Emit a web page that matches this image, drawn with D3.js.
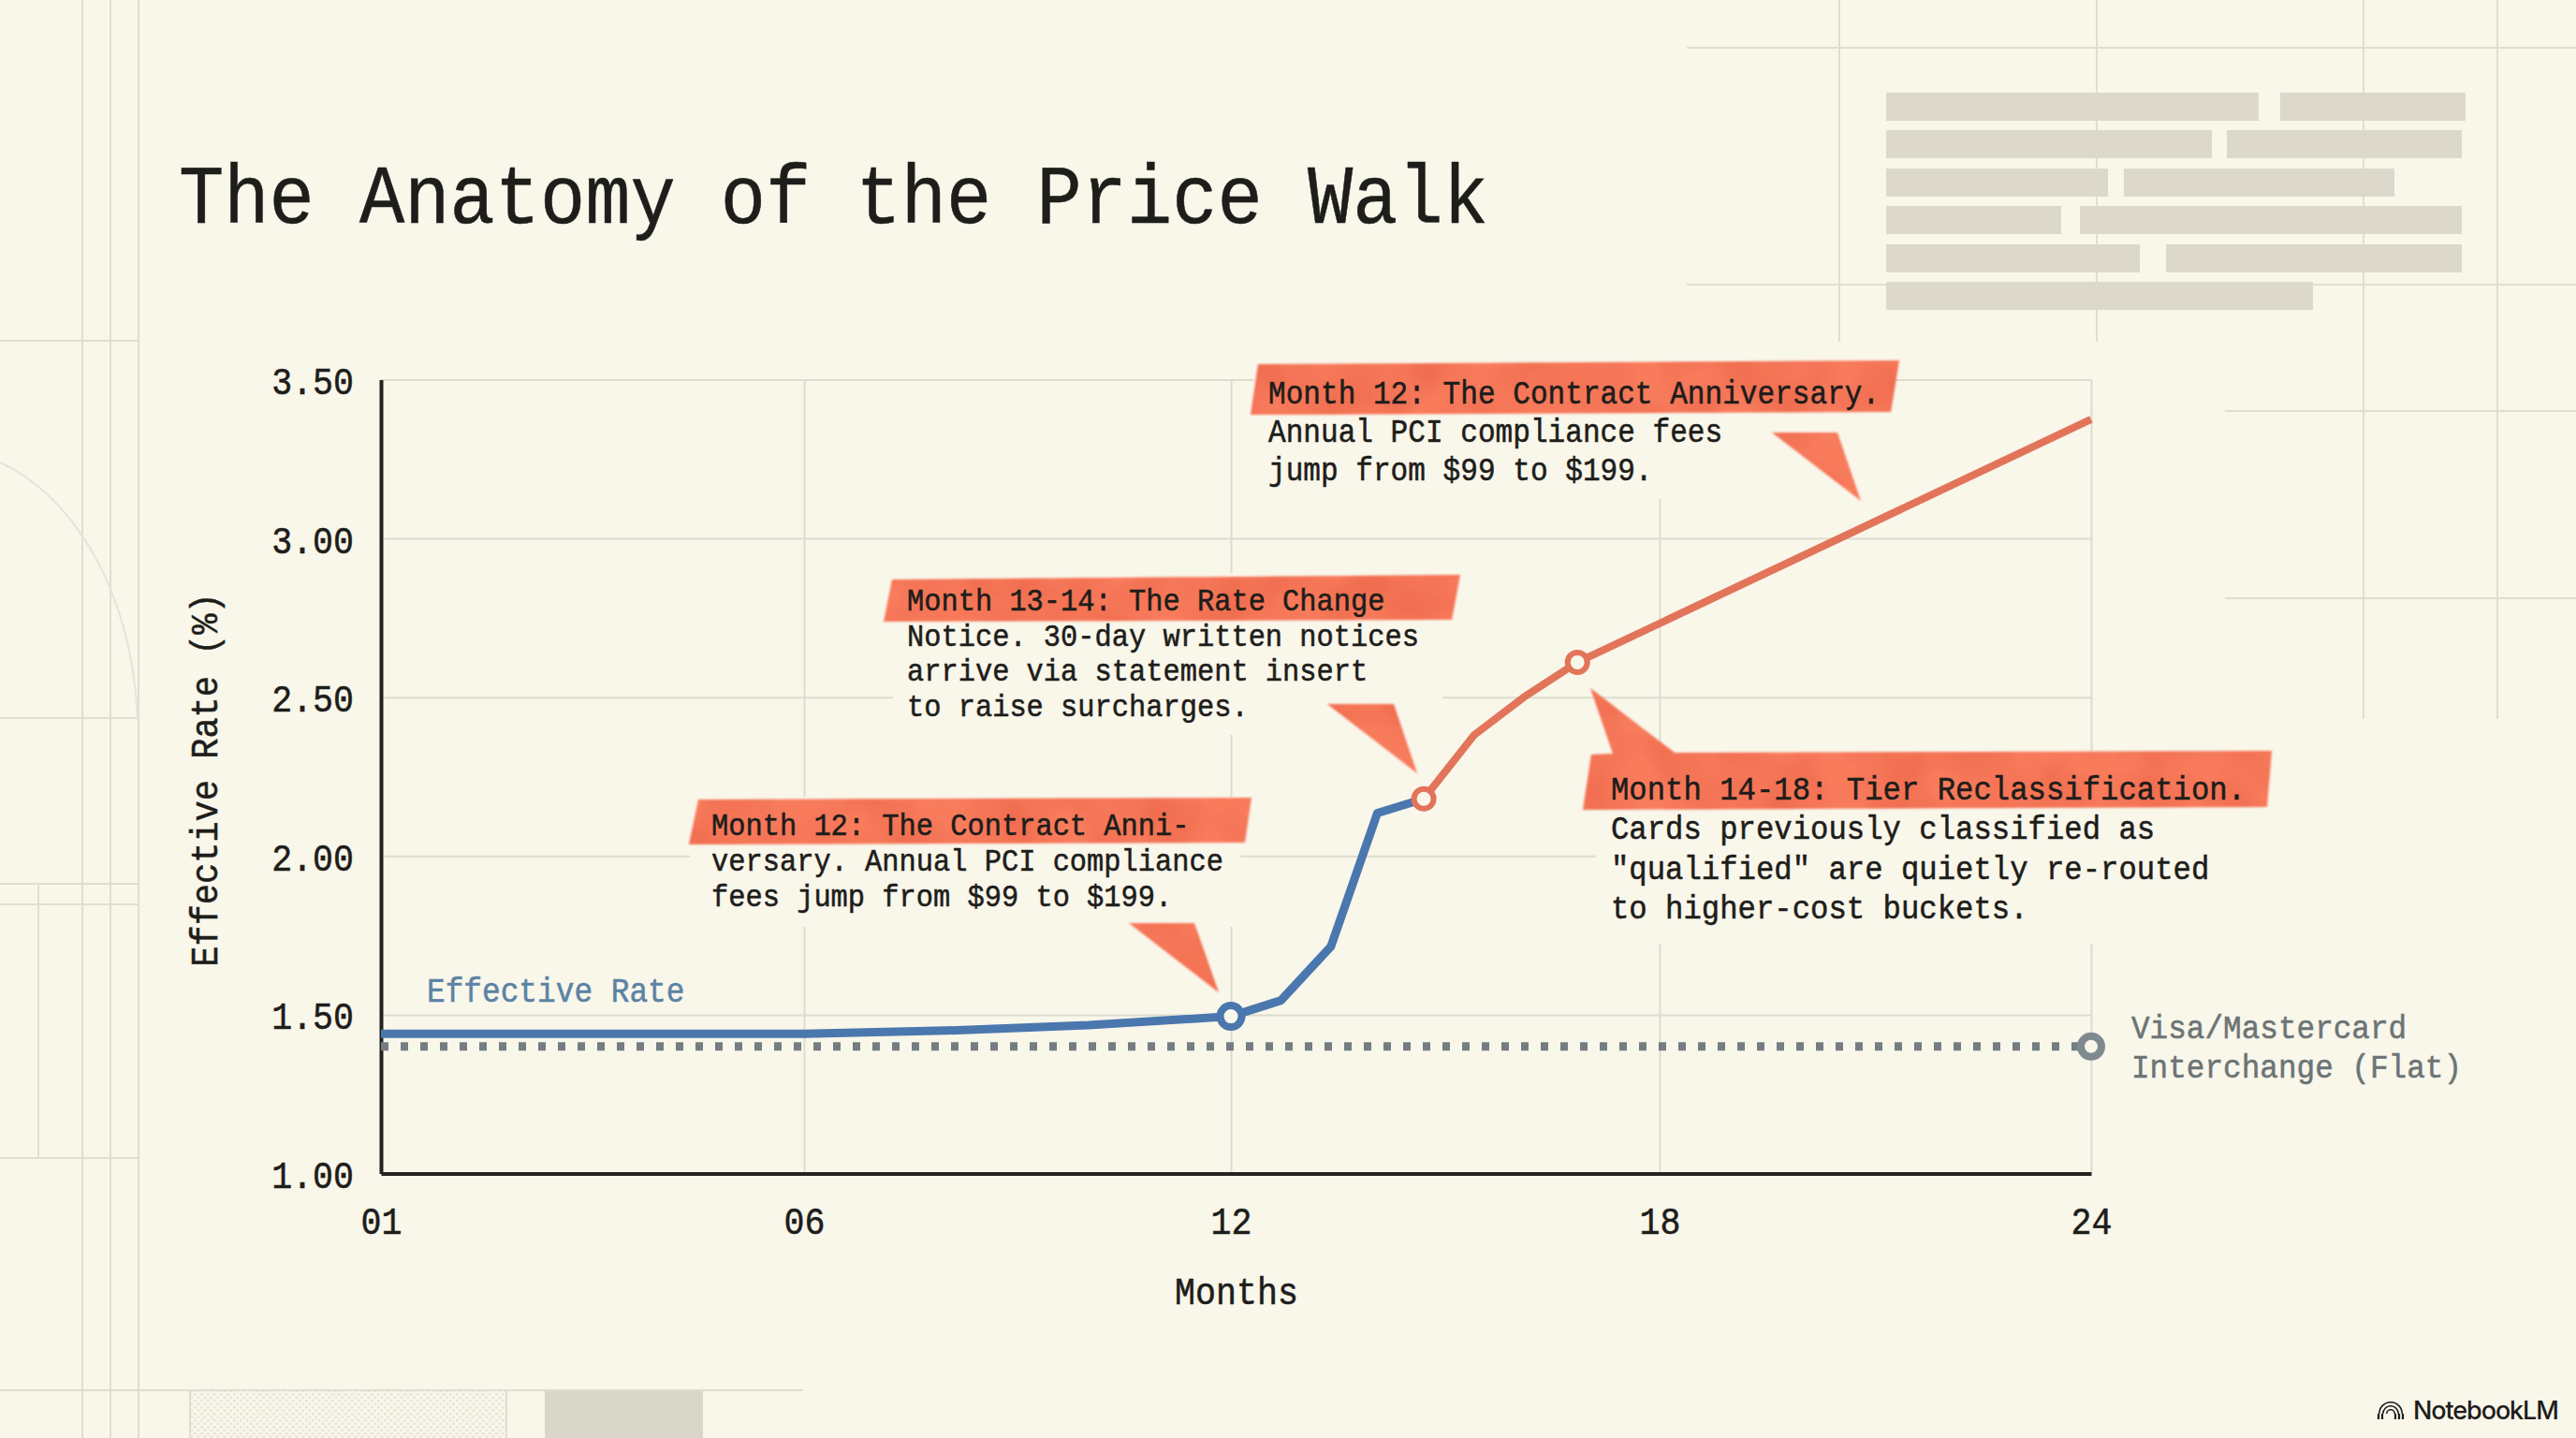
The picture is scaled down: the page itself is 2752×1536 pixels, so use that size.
<!DOCTYPE html>
<html>
<head>
<meta charset="utf-8">
<style>
  html, body { margin: 0; padding: 0; background: #f9f6ea; }
  svg { display: block; }
  text { font-family: "Liberation Mono", monospace; fill: #1d1d1a; }
</style>
<script src="https://cdn.jsdelivr.net/npm/d3@7/dist/d3.min.js"></script>
</head>
<body>
<svg id="chart" width="2752" height="1536"></svg>
<script>
// Effective rate over the contract, split where it turns from blue to orange.
const earlyMonths = [1, 5, 6, 8, 10, 12, 12.7, 13.4, 14.05, 14.7];
const earlyRates  = [1.44, 1.44, 1.44, 1.45, 1.467, 1.495, 1.545, 1.715, 2.135, 2.18];
const lateMonths  = [14.7, 15.4, 16.1, 16.85, 24];
const lateRates   = [2.18, 2.38, 2.5, 2.61, 3.375];

// Flat card-network interchange line.
const flatMonths = [1, 24];
const flatRates  = [1.4, 1.4];

const xTicks = [1, 6, 12, 18, 24];
const yTicks = [1, 1.5, 2, 2.5, 3, 3.5];

const blueMarkers   = [[12, 1.495]];
const orangeMarkers = [[14.7, 2.18], [16.85, 2.61]];
const greyMarkers   = [[24, 1.4]];

const chartTitle = "The Anatomy of the Price Walk";
const xAxisTitle = "Months";
const yAxisTitle = "Effective Rate (%)";
const seriesLabel = "Effective Rate";
const flatLabel = ["Visa/Mastercard", "Interchange (Flat)"];

const notes = [
  { lines: ["Month 12: The Contract Anniversary.", "Annual PCI compliance fees", "jump from $99 to $199."],
    x: 1355, ys: [431, 472, 513], size: 31.1,
    clear: [1340, 380, 680, 153],
    band: [[1344, 389], [2029, 385], [2020, 440], [1336, 443]],
    pointer: [[1893, 462], [1963, 462], [1988, 535]] },
  { lines: ["Month 13-14: The Rate Change", "Notice. 30-day written notices", "arrive via statement insert", "to raise surcharges."],
    x: 969, ys: [652, 690, 727, 765], size: 30.4,
    clear: [954, 612, 587, 173],
    band: [[953, 619], [1560, 614], [1551, 662], [944, 664]],
    pointer: [[1418, 752], [1489, 752], [1514, 826]] },
  { lines: ["Month 12: The Contract Anni-", "versary. Annual PCI compliance", "fees jump from $99 to $199."],
    x: 760, ys: [892, 930, 968], size: 30.4,
    clear: [737, 851, 588, 139],
    band: [[746, 854], [1337, 852], [1330, 900], [736, 902]],
    pointer: [[1206, 986], [1276, 986], [1302, 1060]] },
  { lines: ["Month 14-18: Tier Reclassification.", "Cards previously classified as", "\"qualified\" are quietly re-routed", "to higher-cost buckets."],
    x: 1721, ys: [854, 896, 939, 981], size: 32.3,
    clear: [1705, 802, 725, 206],
    band: [[1700, 806], [1723, 805], [1699, 735], [1789, 804], [2427, 802], [2422, 862], [1691, 865]],
    pointer: null }
];

// Pale drafting lines and placeholder blocks behind the chart.
const sketchLines = [
  [88, 0, 88, 1536], [118, 0, 118, 1536], [148, 0, 148, 1536], [41, 944, 41, 1237],
  [0, 364, 148, 364], [0, 767, 148, 767], [0, 944, 148, 944], [0, 966, 148, 966],
  [0, 1237, 148, 1237], [0, 1485, 858, 1485], [203, 1485, 203, 1536], [541, 1485, 541, 1536],
  [1802, 51, 2752, 51], [1802, 304, 2752, 304], [2377, 439, 2752, 439], [2377, 639, 2752, 639],
  [1965, 0, 1965, 365], [2240, 0, 2240, 365], [2525, 0, 2525, 768], [2668, 0, 2668, 768]
];
const sketchBlocks = [
  [2015, 99, 398], [2436, 99, 198],
  [2015, 139, 348], [2379, 139, 251],
  [2015, 180, 237], [2269, 180, 289],
  [2015, 220, 187], [2222, 220, 408],
  [2015, 261, 271], [2314, 261, 316],
  [2015, 301, 456]
];

const paper = "#f9f6ea";
const gridInk = "#dedbcf";
const blue = "#4a77ae";
const orange = "#e2745a";
const grey = "#737d82";
const wash = "#f87b5c";
const ink = "#1d1d1a";

const svg = d3.select("#chart");
const defs = svg.append("defs");

// Soft, uneven watercolour look for the highlighter bands.
const washFilter = defs.append("filter").attr("id", "wash")
  .attr("color-interpolation-filters", "sRGB")
  .attr("x", "-5%").attr("y", "-5%").attr("width", "110%").attr("height", "110%");
washFilter.append("feTurbulence").attr("type", "fractalNoise")
  .attr("baseFrequency", "0.018").attr("numOctaves", 2).attr("seed", 7).attr("result", "noise");
washFilter.append("feColorMatrix").attr("in", "noise").attr("type", "matrix")
  .attr("values", "0 0 0 0 0.92  0 0 0 0 0.39  0 0 0 0 0.28  1.3 0 0 0 -0.45").attr("result", "tint");
washFilter.append("feComposite").attr("in", "tint").attr("in2", "SourceGraphic").attr("operator", "in").attr("result", "mottle");
washFilter.append("feMerge").call(m => {
  m.append("feMergeNode").attr("in", "SourceGraphic");
  m.append("feMergeNode").attr("in", "mottle");
});
washFilter.append("feGaussianBlur").attr("stdDeviation", 1.1);

const dots = defs.append("pattern").attr("id", "dots")
  .attr("width", 7).attr("height", 7).attr("patternUnits", "userSpaceOnUse");
dots.append("rect").attr("width", 7).attr("height", 7).attr("fill", paper);
dots.append("circle").attr("cx", 1.75).attr("cy", 1.75).attr("r", 1.5).attr("fill", "#e8e6d9");
dots.append("circle").attr("cx", 5.25).attr("cy", 5.25).attr("r", 1.5).attr("fill", "#e8e6d9");

svg.append("rect").attr("width", 2752).attr("height", 1536).attr("fill", paper);

// Background drafting layer
const sketch = svg.append("g");
sketch.append("rect").attr("x", 203).attr("y", 1486).attr("width", 338).attr("height", 50).attr("fill", "url(#dots)");
sketch.append("rect").attr("x", 582).attr("y", 1486).attr("width", 169).attr("height", 50).attr("fill", "#d9d6ca");
sketch.selectAll("line").data(sketchLines).join("line")
  .attr("x1", d => d[0]).attr("y1", d => d[1]).attr("x2", d => d[2]).attr("y2", d => d[3])
  .attr("stroke", "#e0ddd1").attr("stroke-width", 2);
sketch.append("path").attr("d", "M0,494 C70,525 140,620 147,767")
  .attr("fill", "none").attr("stroke", "#e6e3d7").attr("stroke-width", 2);
sketch.selectAll("rect.block").data(sketchBlocks).join("rect").attr("class", "block")
  .attr("x", d => d[0]).attr("y", d => d[1]).attr("width", d => d[2]).attr("height", 30)
  .attr("fill", "#dcd9cc");

// Title
svg.append("text").attr("class", "tall").attr("x", 191).attr("y", 238).attr("font-size", 80.4).text(chartTitle);

// Scales: the month ticks sit at even spacing, so the axis is piecewise.
const plot = { left: 407, right: 2234, top: 405.5, bottom: 1253.5 };
const x = d3.scaleLinear().domain(xTicks).range([plot.left, 859, 1315, 1773, plot.right]);
const y = d3.scaleLinear().domain([1, 3.5]).range([plot.bottom, plot.top]);

// Grid
const grid = svg.append("g");
grid.append("g").attr("transform", `translate(${plot.left},0)`)
  .call(d3.axisLeft(y).tickValues(yTicks).tickSize(-(plot.right - plot.left)).tickFormat(""))
  .call(g => g.select(".domain").remove());
grid.append("g").attr("transform", `translate(0,${plot.bottom})`)
  .call(d3.axisBottom(x).tickValues(xTicks).tickSize(-(plot.bottom - plot.top)).tickFormat(""))
  .call(g => g.select(".domain").remove());
grid.selectAll("line").attr("stroke", gridInk).attr("stroke-width", 2);

// Paper-coloured clearings so grid lines stop short of the notes
svg.append("g").selectAll("rect").data(notes).join("rect")
  .attr("x", d => d.clear[0]).attr("y", d => d.clear[1])
  .attr("width", d => d.clear[2]).attr("height", d => d.clear[3])
  .attr("fill", paper);

// Axes
const axisInk = "#22221e";
const yAxis = svg.append("g").attr("transform", `translate(${plot.left},0)`)
  .call(d3.axisLeft(y).tickValues(yTicks).tickSize(0).tickPadding(29).tickFormat(d3.format(".2f")));
const xAxis = svg.append("g").attr("transform", `translate(0,${plot.bottom})`)
  .call(d3.axisBottom(x).tickValues(xTicks).tickSize(0).tickPadding(33).tickFormat(d3.format("02d")));
[yAxis, xAxis].forEach(a => {
  a.select(".domain").attr("stroke", axisInk).attr("stroke-width", 4);
  a.selectAll("text").attr("font-size", 36.6).attr("font-family", "Liberation Mono").attr("fill", ink)
    .attr("transform", "scale(1,1.1)");
});
yAxis.selectAll("text").attr("dy", "0.37em");

svg.append("text").attr("transform", "translate(232,833) rotate(-90) scale(1,1.1)")
  .attr("text-anchor", "middle").attr("font-size", 37).text(yAxisTitle);
svg.append("text").attr("class", "tall").attr("x", 1321).attr("y", 1393)
  .attr("text-anchor", "middle").attr("font-size", 36.6).text(xAxisTitle);

// Series
const line = d3.line().x(d => x(d[0])).y(d => y(d[1]));
const zip = (a, b) => a.map((v, i) => [v, b[i]]);

svg.append("path").datum(zip(flatMonths, flatRates)).attr("d", line)
  .attr("fill", "none").attr("stroke", grey).attr("stroke-width", 9).attr("stroke-dasharray", "8 13");
svg.append("path").datum(zip(earlyMonths, earlyRates)).attr("d", line)
  .attr("fill", "none").attr("stroke", blue).attr("stroke-width", 9).attr("stroke-linejoin", "round");
svg.append("path").datum(zip(lateMonths, lateRates)).attr("d", line)
  .attr("fill", "none").attr("stroke", orange).attr("stroke-width", 8).attr("stroke-linejoin", "round");

const ring = (points, colour, r, w) => svg.append("g").selectAll("circle").data(points).join("circle")
  .attr("cx", d => x(d[0])).attr("cy", d => y(d[1])).attr("r", r)
  .attr("fill", paper).attr("stroke", colour).attr("stroke-width", w);
ring(blueMarkers, blue, 11.5, 8);
ring(orangeMarkers, orange, 10.5, 6);
ring(greyMarkers, "#7f8a90", 11, 8);

// Series labels
svg.append("text").attr("class", "tall").attr("x", 456).attr("y", 1070).attr("font-size", 32.8)
  .style("fill", "#5a83a4").text(seriesLabel);
svg.append("g").selectAll("text").data(flatLabel).join("text").attr("class", "tall")
  .attr("x", 2277).attr("y", (d, i) => 1109 + i * 42).attr("font-size", 32.7)
  .style("fill", "#6b7475").text(d => d);

// Annotations
const outline = d3.line();
const noteGroups = svg.append("g").selectAll("g").data(notes).join("g");
noteGroups.append("path").attr("d", d => outline(d.band) + "Z").attr("fill", wash).attr("filter", "url(#wash)");
noteGroups.filter(d => d.pointer).append("path")
  .attr("d", d => outline(d.pointer) + "Z").attr("fill", wash).attr("filter", "url(#wash)");
noteGroups.each(function (d) {
  d3.select(this).selectAll("text").data(d.lines).join("text").attr("class", "tall")
    .attr("x", d.x).attr("y", (_, i) => d.ys[i]).attr("font-size", d.size)
    .attr("xml:space", "preserve").text(t => t);
});

// The monospace face runs a little short and light here: stretch it upward
// from each baseline and give the strokes some extra weight.
svg.selectAll("text.tall").attr("transform", function () {
  const b = +this.getAttribute("y");
  return `translate(0,${b}) scale(1,1.1) translate(0,${-b})`;
});
svg.selectAll("text").each(function () {
  const t = d3.select(this);
  t.style("stroke", getComputedStyle(this).fill).style("stroke-width", "0.5px");
});

// Wordmark
const mark = svg.append("g").attr("transform", "translate(2554,1516)");
[13, 9, 5].forEach(r => {
  mark.append("path").attr("d", d3.arc()({ innerRadius: r - 1.6, outerRadius: r, startAngle: -Math.PI / 2, endAngle: Math.PI / 2 }))
    .attr("fill", ink).attr("transform", "translate(0,-6)");
});
mark.append("path").attr("d", "M-13,-6V0M-9,-6V0M13,-6V0M9,-6V0M5,-6V0")
  .attr("stroke", ink).attr("stroke-width", 2.2).attr("fill", "none");
svg.append("text").attr("x", 2578).attr("y", 1516).attr("font-size", 27).attr("font-weight", 500)
  .attr("letter-spacing", -1.1).style("font-family", "Inter, sans-serif").text("NotebookLM");
</script>
</body>
</html>
